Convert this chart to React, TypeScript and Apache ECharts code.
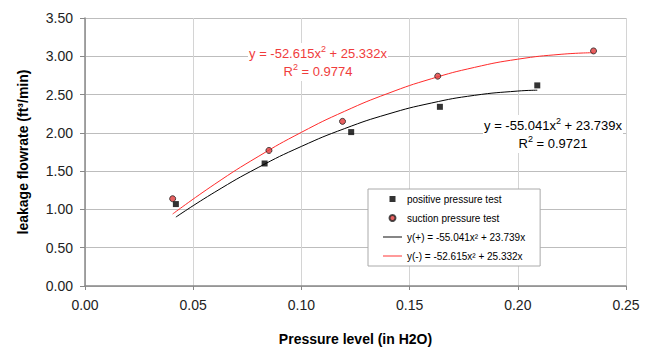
import React, { useEffect, useRef } from "react";
import * as echarts from "echarts";

const xTicks = [0, 0.05, 0.1, 0.15, 0.2, 0.25];
const yTicks = [0, 0.5, 1, 1.5, 2, 2.5, 3, 3.5];

const positiveX = [0.042, 0.083, 0.123, 0.164, 0.209];
const positiveY = [1.07, 1.6, 2.01, 2.34, 2.62];

const suctionX = [0.0405, 0.085, 0.119, 0.163, 0.235];
const suctionY = [1.14, 1.77, 2.15, 2.74, 3.07];

// trendline points (as drawn on the chart)
const fitPosX = [0.042, 0.06, 0.08, 0.1, 0.12, 0.14, 0.16, 0.18, 0.2, 0.209];
const fitPosY = [0.9, 1.226, 1.547, 1.823, 2.056, 2.245, 2.389, 2.49, 2.546, 2.557];
const fitNegX = [0.0405, 0.06, 0.08, 0.1, 0.12, 0.14, 0.16, 0.18, 0.2, 0.22, 0.235];
const fitNegY = [0.94, 1.331, 1.69, 2.007, 2.282, 2.515, 2.706, 2.855, 2.962, 3.026, 3.047];

const seriesNames = [
  "positive pressure test",
  "suction pressure test",
  "y(+) = -55.041x² + 23.739x",
  "y(-) = -52.615x² + 25.332x",
];

const zip = (xs: number[], ys: number[]) => xs.map((x, i) => [x, ys[i]]);

const FONT = "'Liberation Sans', Arial, sans-serif";
const SQUARE_ICON = "path://M0,0L10,0L10,10L0,10Z";
const LINE_ICON = "path://M0,0L40,0L40,2L0,2Z";

export default function App() {
  const ref = useRef<HTMLDivElement>(null);
  useEffect(() => {
    if (!ref.current) return;
    const chart = echarts.init(ref.current, undefined, { renderer: "svg" });
    const supRich = (color: string) => ({
      a: { fontSize: 13, fontFamily: FONT, fill: color, color, lineHeight: 18 },
      s: { fontSize: 9, fontFamily: FONT, fill: color, color, lineHeight: 9, verticalAlign: "top" },
    });
    chart.setOption({
      animation: false,
      backgroundColor: "#fff",
      textStyle: { fontFamily: FONT },
      grid: { left: 85, right: 31, top: 18, bottom: 62 },
      xAxis: {
        type: "value",
        min: xTicks[0],
        max: xTicks[xTicks.length - 1],
        interval: 0.05,
        name: "Pressure level (in H2O)",
        nameLocation: "middle",
        nameGap: 46,
        nameTextStyle: { fontSize: 14, fontWeight: "bold", color: "#000", fontFamily: FONT },
        axisLine: { lineStyle: { color: "#888", width: 1.5 } },
        axisTick: { show: true, length: 4, lineStyle: { color: "#888" } },
        axisLabel: {
          fontSize: 14,
          color: "#222",
          margin: 12,
          formatter: (v: number) => v.toFixed(2),
        },
        splitLine: { show: true, lineStyle: { color: "#d4d4d4", width: 1 } },
      },
      yAxis: {
        type: "value",
        min: yTicks[0],
        max: yTicks[yTicks.length - 1],
        interval: 0.5,
        name: "leakage flowrate (ft³/min)",
        nameLocation: "middle",
        nameGap: 55,
        nameTextStyle: { fontSize: 14, fontWeight: "bold", color: "#000", fontFamily: FONT },
        axisLine: { show: true, lineStyle: { color: "#888", width: 1.5 } },
        axisTick: { show: true, length: 5, lineStyle: { color: "#888" } },
        axisLabel: {
          fontSize: 14,
          color: "#222",
          margin: 12,
          formatter: (v: number) => v.toFixed(2),
        },
        splitLine: { show: true, lineStyle: { color: "#bdbdbd", width: 1 } },
      },
      legend: {
        orient: "vertical",
        left: 368,
        top: 189,
        data: [
          { name: seriesNames[0], icon: SQUARE_ICON },
          { name: seriesNames[1], icon: "circle" },
          { name: seriesNames[2], icon: LINE_ICON },
          { name: seriesNames[3], icon: LINE_ICON },
        ],
        backgroundColor: "#fff",
        borderColor: "#aaa",
        borderWidth: 1,
        borderRadius: 0,
        padding: [4, 15, 4, 15],
        itemGap: 7,
        itemWidth: 19,
        itemHeight: 6,
        textStyle: { fontSize: 10, color: "#000", lineHeight: 12, fontFamily: FONT },
      },
      graphic: [
        {
          type: "text",
          x: 318,
          y: 62,
          z: 100,
          style: {
            text: "{a|y = -52.615x}{s|2}{a| + 25.332x}\n{a|R}{s|2}{a| = 0.9774}",
            rich: supRich("#f03c3c"),
            fill: "#f03c3c",
            align: "center",
            verticalAlign: "middle",
            backgroundColor: "#fff",
            padding: [1, 1],
          },
        },
        {
          type: "text",
          x: 553,
          y: 134,
          z: 100,
          style: {
            text: "{a|y = -55.041x}{s|2}{a| + 23.739x}\n{a|R}{s|2}{a| = 0.9721}",
            rich: supRich("#000"),
            fill: "#000",
            align: "center",
            verticalAlign: "middle",
            backgroundColor: "#fff",
            padding: [1, 1],
          },
        },
      ],
      series: [
        {
          name: seriesNames[0],
          type: "scatter",
          symbol: "rect",
          symbolSize: 6,
          itemStyle: { color: "#000" },
          data: zip(positiveX, positiveY),
          z: 5,
        },
        {
          name: seriesNames[1],
          type: "scatter",
          symbol: "circle",
          symbolSize: 6,
          itemStyle: { color: "#e23a3a", borderColor: "#222", borderWidth: 1 },
          data: zip(suctionX, suctionY),
          z: 5,
        },
        {
          name: seriesNames[2],
          type: "line",
          smooth: true,
          showSymbol: false,
          symbol: "none",
          lineStyle: { color: "#000", width: 1 },
          itemStyle: { color: "#000" },
          data: zip(fitPosX, fitPosY),
          z: 3,
        },
        {
          name: seriesNames[3],
          type: "line",
          smooth: true,
          showSymbol: false,
          symbol: "none",
          lineStyle: { color: "#ff2a2a", width: 1 },
          itemStyle: { color: "#ff2a2a" },
          data: zip(fitNegX, fitNegY),
          z: 3,
        },
      ],
    });
    return () => chart.dispose();
  }, []);
  return (
    <div
      ref={ref}
      style={{ position: "fixed", left: 0, top: 0, width: 657, height: 351 }}
    />
  );
}
